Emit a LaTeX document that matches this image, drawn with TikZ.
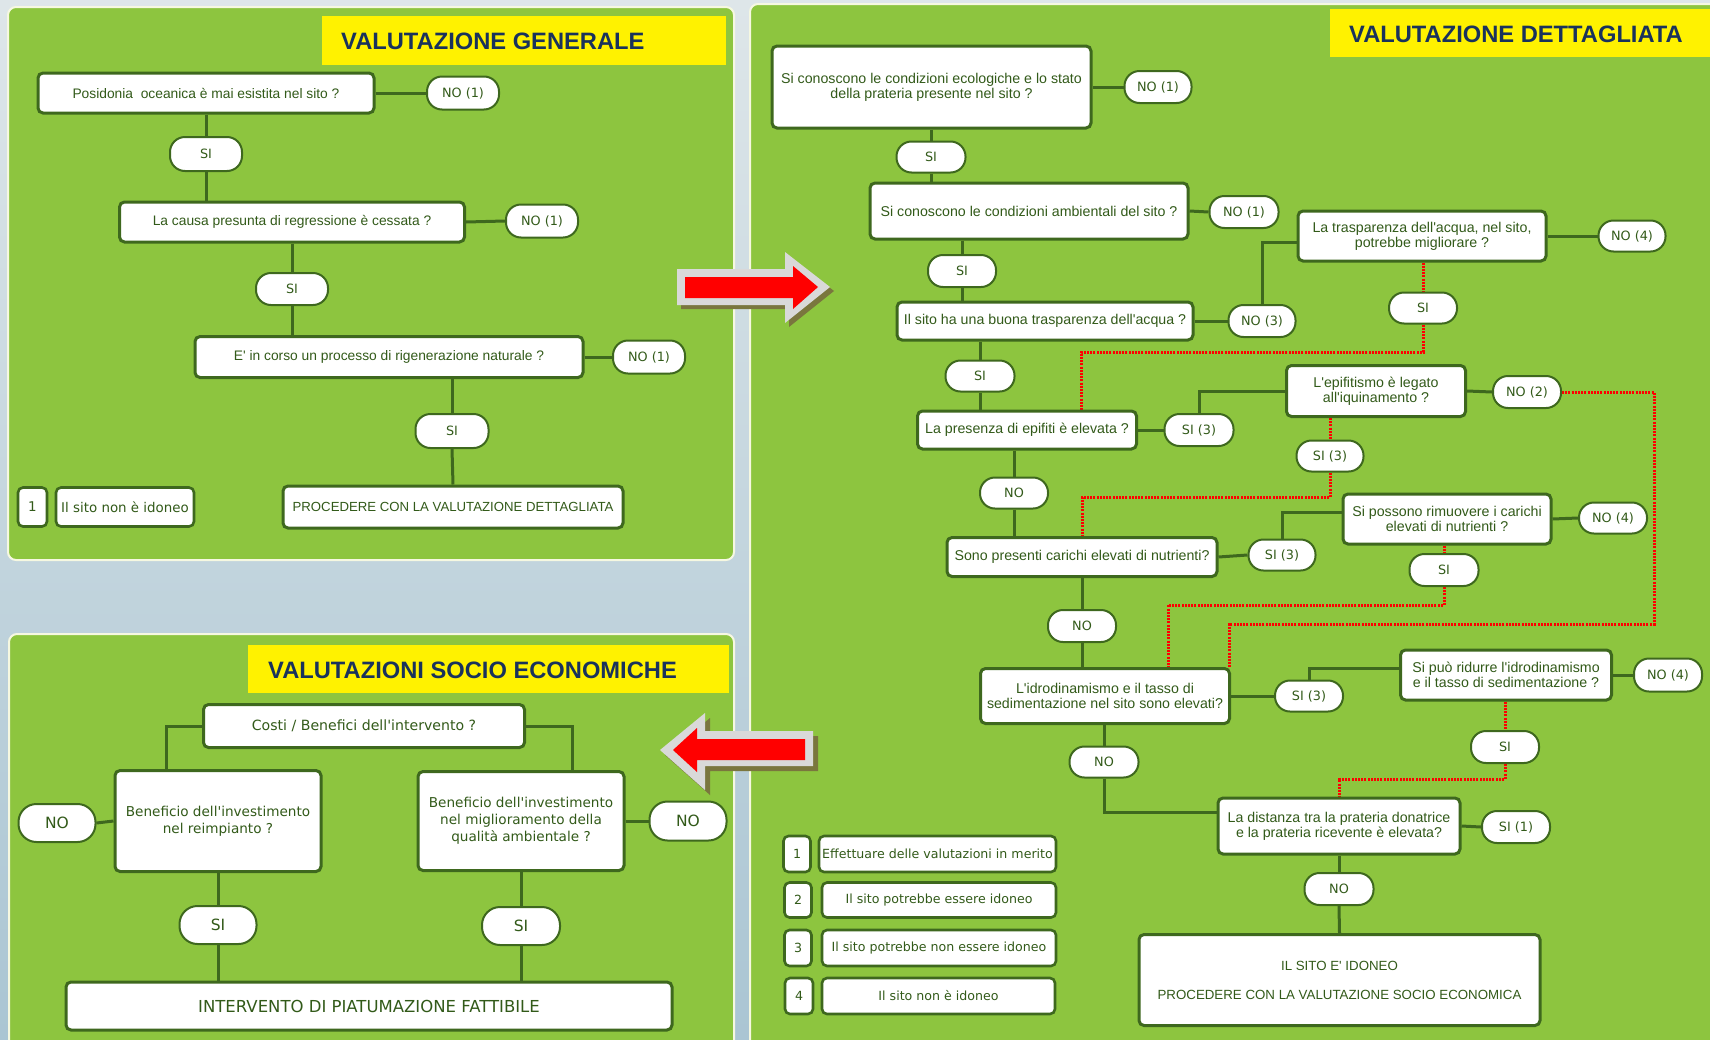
\documentclass[tikz,border=0pt]{standalone}
\usepackage{fontspec}
\setmainfont{Liberation Sans}[Ligatures=TeXOff]
\newfontfamily\dvfont{DejaVu Sans}[Ligatures=TeXOff]
\pgfdeclarelayer{panels}
\pgfdeclarelayer{lines}
\pgfdeclarelayer{front}
\pgfsetlayers{panels,lines,main,front}
\definecolor{pgreen}{RGB}{141,197,63}
\definecolor{ln}{RGB}{62,104,30}
\definecolor{tx}{RGB}{50,90,25}
\definecolor{navy}{RGB}{25,50,92}
\definecolor{argrey}{RGB}{217,217,217}
\definecolor{arshadow}{RGB}{122,118,62}
\definecolor{bgtop}{RGB}{222,230,233}
\definecolor{bgbot}{RGB}{170,197,211}
\definecolor{pborder}{RGB}{246,248,225}
\begin{document}
\begin{tikzpicture}[x=1pt,y=-1pt,
  wh/.style 2 args={minimum width=#1pt,minimum height=#2pt},
  box/.style={draw=ln,line width=3pt,fill=white,rounded corners=5pt,text=tx,align=center,inner sep=0pt},
  qa/.style={box,font=\fontsize{13.8}{15}\selectfont},
  qb/.style={box,font=\fontsize{14.2}{15}\selectfont},
  qs/.style={box,font=\dvfont\fontsize{13.6}{16.8}\selectfont},
  leg/.style={box,line width=2.6pt,font=\dvfont\fontsize{12.6}{14}\selectfont},
  pill/.style={draw=ln,line width=2pt,fill=white,rounded corners=15pt,text=tx,inner sep=0pt,font=\dvfont\fontsize{12.8}{14}\selectfont},
  bigpill/.style={pill,rounded corners=18pt,font=\dvfont\fontsize{15.5}{17}\selectfont},
  conn/.style={draw=ln,line width=3pt},
  reddot/.style={draw=red,line width=3pt,dash pattern=on 2pt off 1.2pt},
  panel/.style={fill=pgreen,draw=pborder,line width=2pt,rounded corners=8pt},
  ttl/.style={text=navy,font=\bfseries\fontsize{23.7}{26}\selectfont,inner sep=0pt,anchor=base west},
  arrowgrey/.style={fill=argrey},
  arrowshadow/.style={fill=arshadow},
  arrowred/.style={fill=red}
]
\useasboundingbox (0,0) rectangle (1710,1039);

% ---------------- panels ----------------
\begin{pgfonlayer}{panels}
\shade[top color=bgtop,bottom color=bgbot] (0,0) rectangle (1710,1039);
\draw[panel] (8,7) rectangle (734,560);
\draw[panel] (9,634) rectangle (734,1070);
\draw[panel] (750,4) rectangle (1730,1070);
\fill[yellow] (322,16) rectangle (726,65);
\fill[yellow] (1330,9) rectangle (1710,57);
\fill[yellow] (248,645) rectangle (729,693);
\end{pgfonlayer}

\node[ttl] (tgen) at (341,49) {VALUTAZIONE GENERALE};
\node[ttl] (tdet) at (1349,42) {VALUTAZIONE DETTAGLIATA};
\node[ttl] (tsoc) at (268,678) {VALUTAZIONI SOCIO ECONOMICHE};

% ---------------- panel 1 ----------------
\node[qa,wh={336}{40}] (g1) at (206,93) {Posidonia\ \ oceanica è mai esistita nel sito ?};
\node[pill,wh={72}{33}] (g1no) at (463,93) {NO (1)};
\node[pill,wh={72}{34}] (g1si) at (206,154) {SI};
\node[qa,wh={345}{40}] (g2) at (292,222) {La causa presunta di regressione è cessata ?};
\node[pill,wh={72}{33}] (g2no) at (542,221) {NO (1)};
\node[pill,wh={72}{32}] (g2si) at (292,289) {SI};
\node[qa,wh={388}{41}] (g3) at (389,357) {E' in corso un processo di rigenerazione naturale ?};
\node[pill,wh={72}{33}] (g3no) at (649,357) {NO (1)};
\node[pill,wh={73}{34}] (g3si) at (452,431) {SI};
\node[box,font=\fontsize{13.2}{15}\selectfont,wh={340}{42}] (g4) at (453,507) {PROCEDERE CON LA VALUTAZIONE DETTAGLIATA};
\node[leg,font=\dvfont\fontsize{13.4}{15}\selectfont,wh={29}{39}] (gl1) at (32.5,507) {1};
\node[leg,font=\dvfont\fontsize{13.4}{15}\selectfont,wh={138}{39}] (gl1t) at (125,507) {Il sito non è idoneo};

\begin{pgfonlayer}{lines}
\draw[conn] (g1.east) -- (g1no.west);
\draw[conn] (g1.south) -- (g1si.north);
\draw[conn] (g1si.south) -- (g1si.south |- g2.north);
\draw[conn] (g2.east) -- (g2no.west);
\draw[conn] (g2.south) -- (g2si.north);
\draw[conn] (g2si.south) -- (g2si.south |- g3.north);
\draw[conn] (g3.east) -- (g3no.west);
\draw[conn] (g3si.north |- g3.south) -- (g3si.north);
\draw[conn] (g3si.south) -- (g4.north);
\end{pgfonlayer}

% ---------------- panel 3 ----------------
\node[qs,font=\dvfont\fontsize{14.1}{16}\selectfont,wh={321}{43}] (s1) at (364,726) {Costi / Benefici dell'intervento ?};
\node[qs,wh={206}{101}] (s2) at (218,821) {Beneficio dell'investimento\\nel reimpianto ?};
\node[qs,wh={206}{99}] (s3) at (521,821) {Beneficio dell'investimento\\nel miglioramento della\\qualità ambientale ?};
\node[bigpill,wh={77}{38}] (s2no) at (57,823) {NO};
\node[bigpill,wh={77}{39}] (s3no) at (688,821) {NO};
\node[bigpill,wh={77}{38}] (s2si) at (218,925) {SI};
\node[bigpill,wh={78}{38}] (s3si) at (521,926) {SI};
\node[qs,font=\dvfont\fontsize{16.5}{18}\selectfont,wh={606}{48}] (s4) at (369,1006) {INTERVENTO DI PIATUMAZIONE FATTIBILE};

\begin{pgfonlayer}{lines}
\draw[conn] (s1.west) -| ([xshift=-52pt]s2.north);
\draw[conn] (s1.east) -| ([xshift=51pt]s3.north);
\draw[conn] (s2no.east) -- (s2.west);
\draw[conn] (s3.east) -- (s3no.west);
\draw[conn] (s2.south) -- (s2si.north);
\draw[conn] (s3.south) -- (s3si.north);
\draw[conn] (s2si.south) -- (s2si.south |- s4.north);
\draw[conn] (s3si.south) -- (s3si.south |- s4.north);
\end{pgfonlayer}

% ---------------- panel 2 ----------------
\node[qb,wh={319}{82}] (dA) at (931.5,87) {Si conoscono le condizioni ecologiche e lo stato\\della prateria presente nel sito ?};
\node[pill,wh={67}{32}] (dAno) at (1158,87) {NO (1)};
\node[pill,wh={69}{31}] (dAsi) at (931,157) {SI};
\node[qb,wh={318}{56}] (dB) at (1029,211) {Si conoscono le condizioni ambientali del sito ?};
\node[pill,wh={69}{32}] (dBno) at (1244,212) {NO (1)};
\node[pill,wh={68}{32}] (dBsi) at (962,271) {SI};
\node[qb,wh={296}{38}] (dC) at (1045,321) {Il sito ha una buona trasparenza dell'acqua ?};
\node[pill,wh={67}{32}] (dCno) at (1262,321) {NO (3)};
\node[qb,wh={248}{50}] (dD) at (1422,236) {La trasparenza dell'acqua, nel sito,\\potrebbe migliorare ?};
\node[pill,wh={67}{31}] (dDno) at (1632,236) {NO (4)};
\node[pill,wh={68}{31}] (dDsi) at (1423,308) {SI};
\node[pill,wh={69}{31}] (dCsi) at (980,376) {SI};
\node[qb,wh={219}{38}] (dE) at (1027,430) {La presenza di epifiti è elevata ?};
\node[pill,wh={69}{32}] (dEsi) at (1199,430) {SI (3)};
\node[qb,wh={179}{51}] (dF) at (1376,391) {L'epifitismo è legato\\all'iquinamento ?};
\node[pill,wh={68}{32}] (dFno) at (1527,392) {NO (2)};
\node[pill,wh={67}{31}] (dFsi) at (1330,456) {SI (3)};
\node[pill,wh={68}{31}] (dEno) at (1014,493) {NO};
\node[qb,wh={270}{39}] (dH) at (1082,557) {Sono presenti carichi elevati di nutrienti?};
\node[pill,wh={67}{31}] (dHsi) at (1282,555) {SI (3)};
\node[qb,wh={208}{50}] (dI) at (1447,519) {Si possono rimuovere i carichi\\elevati di nutrienti ?};
\node[pill,wh={68}{31}] (dIno) at (1613,518) {NO (4)};
\node[pill,wh={69}{32}] (dIsi) at (1444,570) {SI};
\node[pill,wh={68}{32}] (dHno) at (1082,626) {NO};
\node[qb,wh={249}{55}] (dG) at (1105,696) {L'idrodinamismo e il tasso di\\sedimentazione nel sito sono elevati?};
\node[pill,wh={68}{31}] (dGsi) at (1309,696) {SI (3)};
\node[qb,wh={211}{50}] (dJ) at (1506,675) {Si può ridurre l'idrodinamismo\\e il tasso di sedimentazione ?};
\node[pill,wh={68}{33}] (dJno) at (1668,675) {NO (4)};
\node[pill,wh={68}{32}] (dJsi) at (1505,747) {SI};
\node[pill,wh={69}{31}] (dGno) at (1104,762) {NO};
\node[qb,wh={242}{56}] (dK) at (1339,826) {La distanza tra la prateria donatrice\\e la prateria ricevente è elevata?};
\node[pill,wh={68}{32}] (dKsi) at (1516,827) {SI (1)};
\node[pill,wh={69}{32}] (dKno) at (1339,889) {NO};
\node[box,font=\fontsize{13.3}{15}\selectfont,wh={401}{91}] (dL) at (1339.5,980) {IL SITO E' IDONEO\\[14pt]PROCEDERE CON LA VALUTAZIONE SOCIO ECONOMICA};

\node[leg,wh={27}{36}] (n1) at (797,854) {1};
\node[leg,wh={237}{36}] (t1) at (937.5,854) {Effettuare delle valutazioni in merito};
\node[leg,wh={27}{35}] (n2) at (798,900) {2};
\node[leg,wh={234}{35}] (t2) at (939,900) {Il sito potrebbe essere idoneo};
\node[leg,wh={27}{36}] (n3) at (798,948) {3};
\node[leg,wh={234}{36}] (t3) at (939,948) {Il sito potrebbe non essere idoneo};
\node[leg,wh={28}{36}] (n4) at (799,996) {4};
\node[leg,wh={233}{36}] (t4) at (938.5,996) {Il sito non è idoneo};

\coordinate (r1) at (1081,352);
\coordinate (r2) at (1082,497);
\coordinate (r3) at (1654,624);
\coordinate (r4) at (1229,624);
\coordinate (r5) at (1168,605);
\coordinate (r6) at (1339,779);

\begin{pgfonlayer}{lines}
\draw[conn] (dA.east) -- (dAno.west);
\draw[conn] (dAsi.north |- dA.south) -- (dAsi.north);
\draw[conn] (dAsi.south) -- (dAsi.south |- dB.north);
\draw[conn] (dB.east) -- (dBno.west);
\draw[conn] (dBsi.north |- dB.south) -- (dBsi.north);
\draw[conn] (dBsi.south) -- (dBsi.south |- dC.north);
\draw[conn] (dC.east) -- (dCno.west);
\draw[conn] (dCno.north) |- ([yshift=-6pt]dD.west);
\draw[conn] (dD.east) -- (dDno.west);
\draw[conn] (dCsi.north |- dC.south) -- (dCsi.north);
\draw[conn] (dCsi.south) -- (dCsi.south |- dE.north);
\draw[conn] (dE.east) -- (dEsi.west);
\draw[conn] (dEsi.north) |- (dF.west);
\draw[conn] (dF.east) -- (dFno.west);
\draw[conn] (dEno.north |- dE.south) -- (dEno.north);
\draw[conn] (dEno.south) -- (dEno.south |- dH.north);
\draw[conn] (dH.east) -- (dHsi.west);
\draw[conn] (dHsi.north) |- ([yshift=7pt]dI.west);
\draw[conn] (dI.east) -- (dIno.west);
\draw[conn] (dH.south) -- (dHno.north);
\draw[conn] (dHno.south) -- (dHno.south |- dG.north);
\draw[conn] (dG.east) -- (dGsi.west);
\draw[conn] (dGsi.north) |- ([yshift=7pt]dJ.west);
\draw[conn] (dJ.east) -- (dJno.west);
\draw[conn] (dGno.north |- dG.south) -- (dGno.north);
\draw[conn] (dGno.south) |- ([yshift=14pt]dK.west);
\draw[conn] (dK.east) -- (dKsi.west);
\draw[conn] (dK.south) -- (dKno.north);
\draw[conn] (dKno.south) -- (dL.north);
% red dotted
\draw[reddot] (dDsi.north |- dD.south) -- (dDsi.north);
\draw[reddot] (dDsi.south) |- (r1) -- (r1 |- dE.north);
\draw[reddot] (dFsi.north |- dF.south) -- (dFsi.north);
\draw[reddot] (dFsi.south) |- (r2) -- (r2 |- dH.north);
\draw[reddot] (dFno.east) -| (r3) -- (r4) -- (r4 |- dG.north);
\draw[reddot] (dIsi.north |- dI.south) -- (dIsi.north);
\draw[reddot] (dIsi.south) |- (r5) -- (r5 |- dG.north);
\draw[reddot] (dJsi.north |- dJ.south) -- (dJsi.north);
\draw[reddot] (dJsi.south) |- (r6) -- (r6 |- dK.north);
\end{pgfonlayer}

% ---------------- big arrows ----------------
\begin{pgfonlayer}{front}
\fill[arrowshadow] (681,273) -- (789,273) -- (789,256) -- (834,291) -- (789,327) -- (789,309) -- (681,309) -- cycle;
\fill[arrowgrey] (677,269) -- (785,269) -- (785,252) -- (830,287) -- (785,323) -- (785,305) -- (677,305) -- cycle;
\fill[arrowred] (685,277) -- (793,277) -- (793,266) -- (818,287) -- (793,309) -- (793,298) -- (685,298) -- cycle;
\fill[arrowshadow] (665,755) -- (710,718) -- (710,736) -- (818,736) -- (818,771) -- (710,771) -- (710,795) -- cycle;
\fill[arrowgrey] (660,750) -- (705,713) -- (705,731) -- (813,731) -- (813,766) -- (705,766) -- (705,790) -- cycle;
\fill[arrowred] (673,750) -- (697,728) -- (697,739) -- (805,739) -- (805,760) -- (697,760) -- (697,772) -- cycle;
\end{pgfonlayer}
\end{tikzpicture}
\end{document}
